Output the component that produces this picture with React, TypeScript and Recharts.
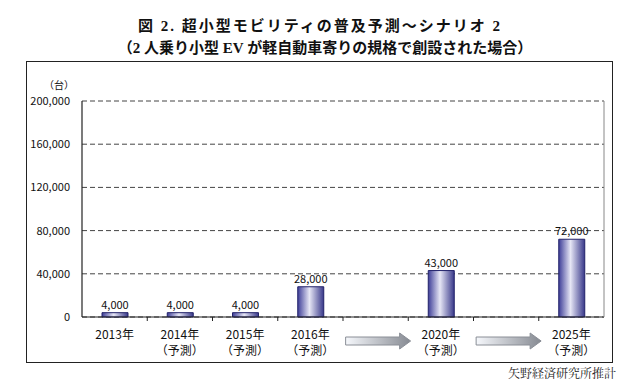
import React from "react";
import { BarChart, Bar, XAxis, YAxis, CartesianGrid, LabelList } from "recharts";

const categories = ["2013年", "2014年", "2015年", "2016年", "arrow1", "2020年", "arrow2", "2025年"];
const subLabels = ["", "（予測）", "（予測）", "（予測）", "", "（予測）", "", "（予測）"];
const arrowSlots = [false, false, false, false, true, false, true, false];
const values: (number | null)[] = [4000, 4000, 4000, 28000, null, 43000, null, 72000];
const yTicks = [0, 40000, 80000, 120000, 160000, 200000];

const data = categories.map((c, i) => ({ name: c, value: values[i] }));

const JP = "'Noto Sans CJK JP', 'Liberation Sans', sans-serif";
const fmt = (v: any) => (v == null ? "" : Number(v).toLocaleString("en-US"));

const XTick = (props: any) => {
  const { x, y, payload, index } = props;
  const half = payload && payload.offset ? payload.offset : 32.6;
  const i = index;
  const isLast = i === categories.length - 1;
  return (
    <g>
      {!isLast && (
        <line x1={x + half} x2={x + half} y1={y} y2={y + 4} stroke="#222" strokeWidth={1} />
      )}
      {arrowSlots[i] ? (
        <path
          d={`M ${x - 30} ${y + 20} L ${x + 24} ${y + 20} L ${x + 24} ${y + 16} L ${x + 35} ${y + 24} L ${x + 24} ${y + 32} L ${x + 24} ${y + 28} L ${x - 30} ${y + 28} Z`}
          fill="url(#arrowGrad)"
          stroke="#8a8e96"
          strokeWidth={1}
        />
      ) : (
        <g>
          <text x={x} y={y + 22} textAnchor="middle" fontSize={12} fontFamily={JP} fill="#111">
            {categories[i]}
          </text>
          {subLabels[i] && (
            <text x={x} y={y + 38} textAnchor="middle" fontSize={12} fontFamily={JP} fill="#111">
              {subLabels[i]}
            </text>
          )}
        </g>
      )}
    </g>
  );
};

export default function App() {
  return (
    <div style={{ position: "absolute", left: 0, top: 0, width: 640, height: 382, background: "#fff" }}>
      <div
        style={{
          position: "absolute",
          left: 0,
          top: 15,
          width: 640,
          textAlign: "center",
          fontFamily: "'Liberation Serif', 'Noto Sans CJK JP', serif",
          fontWeight: "bold",
          fontSize: 15,
          lineHeight: "22px",
          color: "#111",
        }}
      >
        <div style={{ letterSpacing: 2 }}>図 2. 超小型モビリティの普及予測～シナリオ 2</div>
        <div style={{ paddingLeft: 10 }}>（2 人乗り小型 EV が軽自動車寄りの規格で創設された場合）</div>
      </div>
      <div
        style={{
          position: "absolute",
          left: 26,
          top: 61,
          width: 585,
          height: 300,
          border: "1.5px solid #222",
        }}
      />
      <div
        style={{
          position: "absolute",
          left: 44,
          top: 77,
          fontFamily: JP,
          fontSize: 10,
          color: "#111",
        }}
      >
        （台）
      </div>
      <div style={{ position: "absolute", left: 0, top: 0 }}>
        <BarChart
          width={640}
          height={382}
          data={data}
          margin={{ top: 101, right: 35, bottom: 15, left: 22 }}
        >
          <defs>
            <linearGradient id="barGrad" x1="0" y1="0" x2="1" y2="0">
              <stop offset="0%" stopColor="#3e3e98" />
              <stop offset="45%" stopColor="#e6e6f5" />
              <stop offset="100%" stopColor="#38388a" />
            </linearGradient>
            <linearGradient id="arrowGrad" x1="0" y1="0" x2="1" y2="0">
              <stop offset="0%" stopColor="#f6f8fc" />
              <stop offset="100%" stopColor="#868a92" />
            </linearGradient>
          </defs>
          <CartesianGrid vertical={false} stroke="#444" strokeDasharray="5 3" />
          <XAxis
            dataKey="name"
            height={50}
            tickLine={false}
            tickSize={0}
            tickMargin={0}
            axisLine={{ stroke: "#222", strokeWidth: 1.2 }}
            tick={<XTick />}
            interval={0}
          />
          <YAxis
            width={60}
            domain={[0, 200000]}
            ticks={yTicks}
            tickFormatter={fmt}
            tickLine={false}
            tickSize={0}
            tickMargin={12}
            axisLine={{ stroke: "#222", strokeWidth: 1.2 }}
            tick={{ fontSize: 11, fontFamily: JP, fill: "#111" }}
          />
          <YAxis
            yAxisId="r"
            orientation="right"
            width={1}
            domain={[0, 200000]}
            tick={false}
            tickLine={false}
            axisLine={{ stroke: "#888", strokeWidth: 1 }}
          />
          <Bar dataKey="value" barSize={26} fill="url(#barGrad)" stroke="#22226a" strokeWidth={1} isAnimationActive={false}>
            <LabelList dataKey="value" position="top" offset={4} formatter={fmt} fontSize={11} fontFamily={JP} fill="#111" />
          </Bar>
        </BarChart>
      </div>
      <div
        style={{
          position: "absolute",
          left: 508,
          top: 366,
          fontFamily: "'Noto Serif CJK JP', 'Liberation Serif', serif",
          fontSize: 12,
          lineHeight: "14px",
          color: "#222",
        }}
      >
        矢野経済研究所推計
      </div>
    </div>
  );
}
